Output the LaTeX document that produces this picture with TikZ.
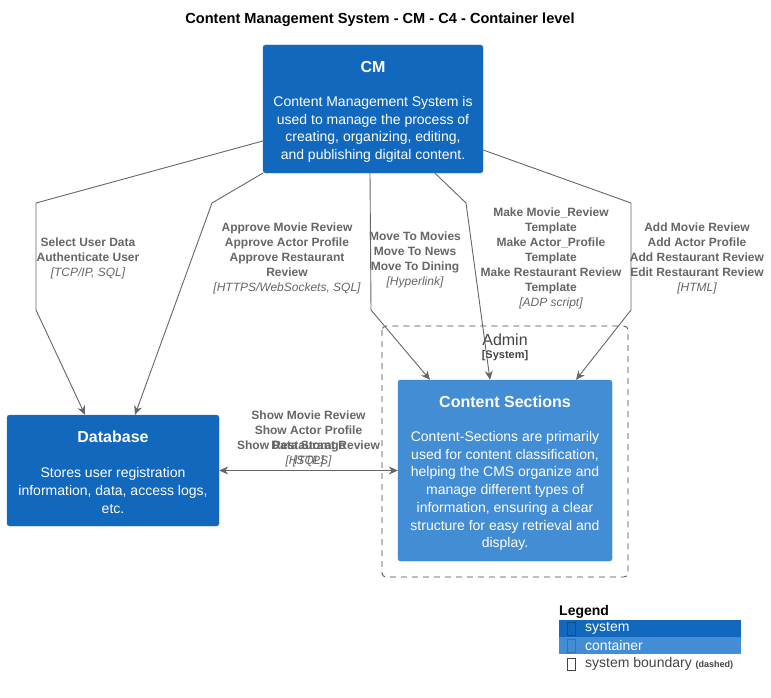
\documentclass[tikz,border=0pt]{standalone}
\usepackage{fontspec}
\setmainfont{Liberation Sans}
\usetikzlibrary{arrows.meta,calc,positioning}
\definecolor{systemblue}{HTML}{1168BD}
\definecolor{systemedge}{HTML}{3C7FC0}
\definecolor{containerblue}{HTML}{438DD5}
\definecolor{containeredge}{HTML}{3C7FC0}
\definecolor{relgray}{HTML}{666666}
\definecolor{boundarygray}{HTML}{444444}
\tikzset{
  systembox/.style={draw=systemedge, fill=systemblue, rounded corners=2.5pt, inner sep=0pt},
  containerbox/.style={draw=containeredge, fill=containerblue, rounded corners=2.5pt, inner sep=0pt},
  boxtitle/.style={text=white, font=\fontsize{16}{19}\selectfont\bfseries, inner sep=0pt},
  boxtext/.style={text=white, align=center, font=\fontsize{14}{17.7}\selectfont, inner sep=0pt},
  rel/.style={draw=relgray, line width=0.9pt, -{Stealth[length=9pt,width=8pt]}},
  relboth/.style={draw=relgray, line width=0.9pt, {Stealth[length=9pt,width=8pt]}-{Stealth[length=9pt,width=8pt]}},
  rellabel/.style={text=relgray, align=center, font=\fontsize{12}{15}\selectfont\bfseries, inner sep=0pt},
  legendtext/.style={anchor=west, font=\fontsize{14}{16}\selectfont, inner sep=0pt},
}
\newcommand{\techtext}[1]{{\mdseries\itshape[#1]}}
\begin{document}
\begin{tikzpicture}[x=1pt, y=-1pt]
    \useasboundingbox[fill=white] (0,0) rectangle (771,698);

    % Title
    \node[font=\fontsize{14.6}{17}\selectfont\bfseries, inner sep=0pt] (title) at (380,20) {Content Management System - CM - C4 - Container level};

    % Boxes
    \node[systembox, minimum width=220pt, minimum height=128pt] (cm) at (373,109) {};
    \node[boxtitle] (cmtitle) at (373,67) {CM};
    \node[boxtext] (cmtext) at (373,129.5) {Content Management System is\\used to manage the process of\\creating, organizing, editing,\\and publishing digital content.};

    \node[systembox, minimum width=212pt, minimum height=111pt] (db) at (113,470.5) {};
    \node[boxtitle] (dbtitle) at (113,437) {Database};
    \node[boxtext] (dbtext) at (113,490.5) {Stores user registration\\information, data, access logs,\\etc.};

    % System boundary
    \draw[boundarygray, dashed, line width=0.8pt, rounded corners=4pt, dash pattern=on 6pt off 5pt] (382,326) rectangle (628,577);
    \node[text=boundarygray, font=\fontsize{16}{19}\selectfont, inner sep=0pt] (admin) at (505,340) {Admin};
    \node[text=boundarygray, font=\fontsize{11}{13}\selectfont\bfseries, inner sep=0pt] (adminkind) at (505,356) {[System]};

    \node[containerbox, minimum width=214pt, minimum height=181pt] (cs) at (505,470.5) {};
    \node[boxtitle] (cstitle) at (505,402) {Content Sections};
    \node[boxtext] (cstext) at (505,491) {Content-Sections are primarily\\used for content classification,\\helping the CMS organize and\\manage different types of\\information, ensuring a clear\\structure for easy retrieval and\\display.};

    % Bend points
    \coordinate (b1a) at (36,203);
    \coordinate (b1b) at (36,310);
    \coordinate (b2a) at (212,203);
    \coordinate (b3a) at (371,310);
    \coordinate (b4a) at (466,203);
    \coordinate (b5a) at (631,203);
    \coordinate (b5b) at (631,310);

    % Relations
    \draw[rel] ($(cm.west)+(0,32)$) -- (b1a) -- (b1b) -- ($(db.north)+(-28,0)$);
    \draw[rel] (cm.south west) -- (b2a) -- ($(db.north)+(22,0)$);
    \draw[rel] ($(cm.south)+(-3,0)$) -- (b3a) -- ($(cs.north)+(-75,0)$);
    \draw[rel] ($(cm.south)+(62,0)$) -- (b4a) -- ($(cs.north)+(-15,0)$);
    \draw[rel] ($(cm.east)+(0,41)$) -- (b5a) -- (b5b) -- ($(cs.north)+(71,0)$);
    \draw[relboth] (db.east) -- (cs.west);

    % Relation labels
    \node[rellabel, anchor=north] (l1) at (88,237.5) {Select User Data\\Authenticate User\\\techtext{TCP/IP, SQL}};
    \node[rellabel, anchor=north] (l2) at (287,222.5) {Approve Movie Review\\Approve Actor Profile\\Approve Restaurant\\Review\\\techtext{HTTPS/WebSockets, SQL}};
    \node[rellabel, anchor=north] (l3) at (415,231.5) {Move To Movies\\Move To News\\Move To Dining\\\techtext{Hyperlink}};
    \node[rellabel, anchor=north] (l4) at (551,207.5) {Make Movie\_Review\\Template\\Make Actor\_Profile\\Template\\Make Restaurant Review\\Template\\\techtext{ADP script}};
    \node[rellabel, anchor=north] (l5) at (697,222.5) {Add Movie Review\\Add Actor Profile\\Add Restaurant Review\\Edit Restaurant Review\\\techtext{HTML}};
    \node[rellabel, anchor=south] (l6) at (308.5,467) {Show Movie Review\\Show Actor Profile\\Show Restaurant Review\\\techtext{HTTPS}};
    \node[rellabel, anchor=south] (l7) at (308.5,467) {Data Storage\\\techtext{SQL}};

    % Legend
    \node[anchor=west, font=\fontsize{14}{16}\selectfont\bfseries, inner sep=0pt] (legendtitle) at (559,611.5) {Legend};
    \fill[systemblue] (559,620) rectangle (741,637);
    \fill[containerblue] (559,637) rectangle (741,654);
    \draw[systemblue!75!black] (567,622.5) rectangle (575,635);
    \draw[containerblue!80!black] (567,639.5) rectangle (575,652);
    \draw[boundarygray] (567,658) rectangle (575,670.5);
    \node[legendtext, text=white] (legsystem) at (585,628.5) {system};
    \node[legendtext, text=white] (legcontainer) at (585,645.5) {container};
    \node[legendtext, text=boundarygray] (legboundary) at (585,664) {system boundary {\fontsize{9}{10}\selectfont\bfseries (dashed)}};
\end{tikzpicture}
\end{document}
